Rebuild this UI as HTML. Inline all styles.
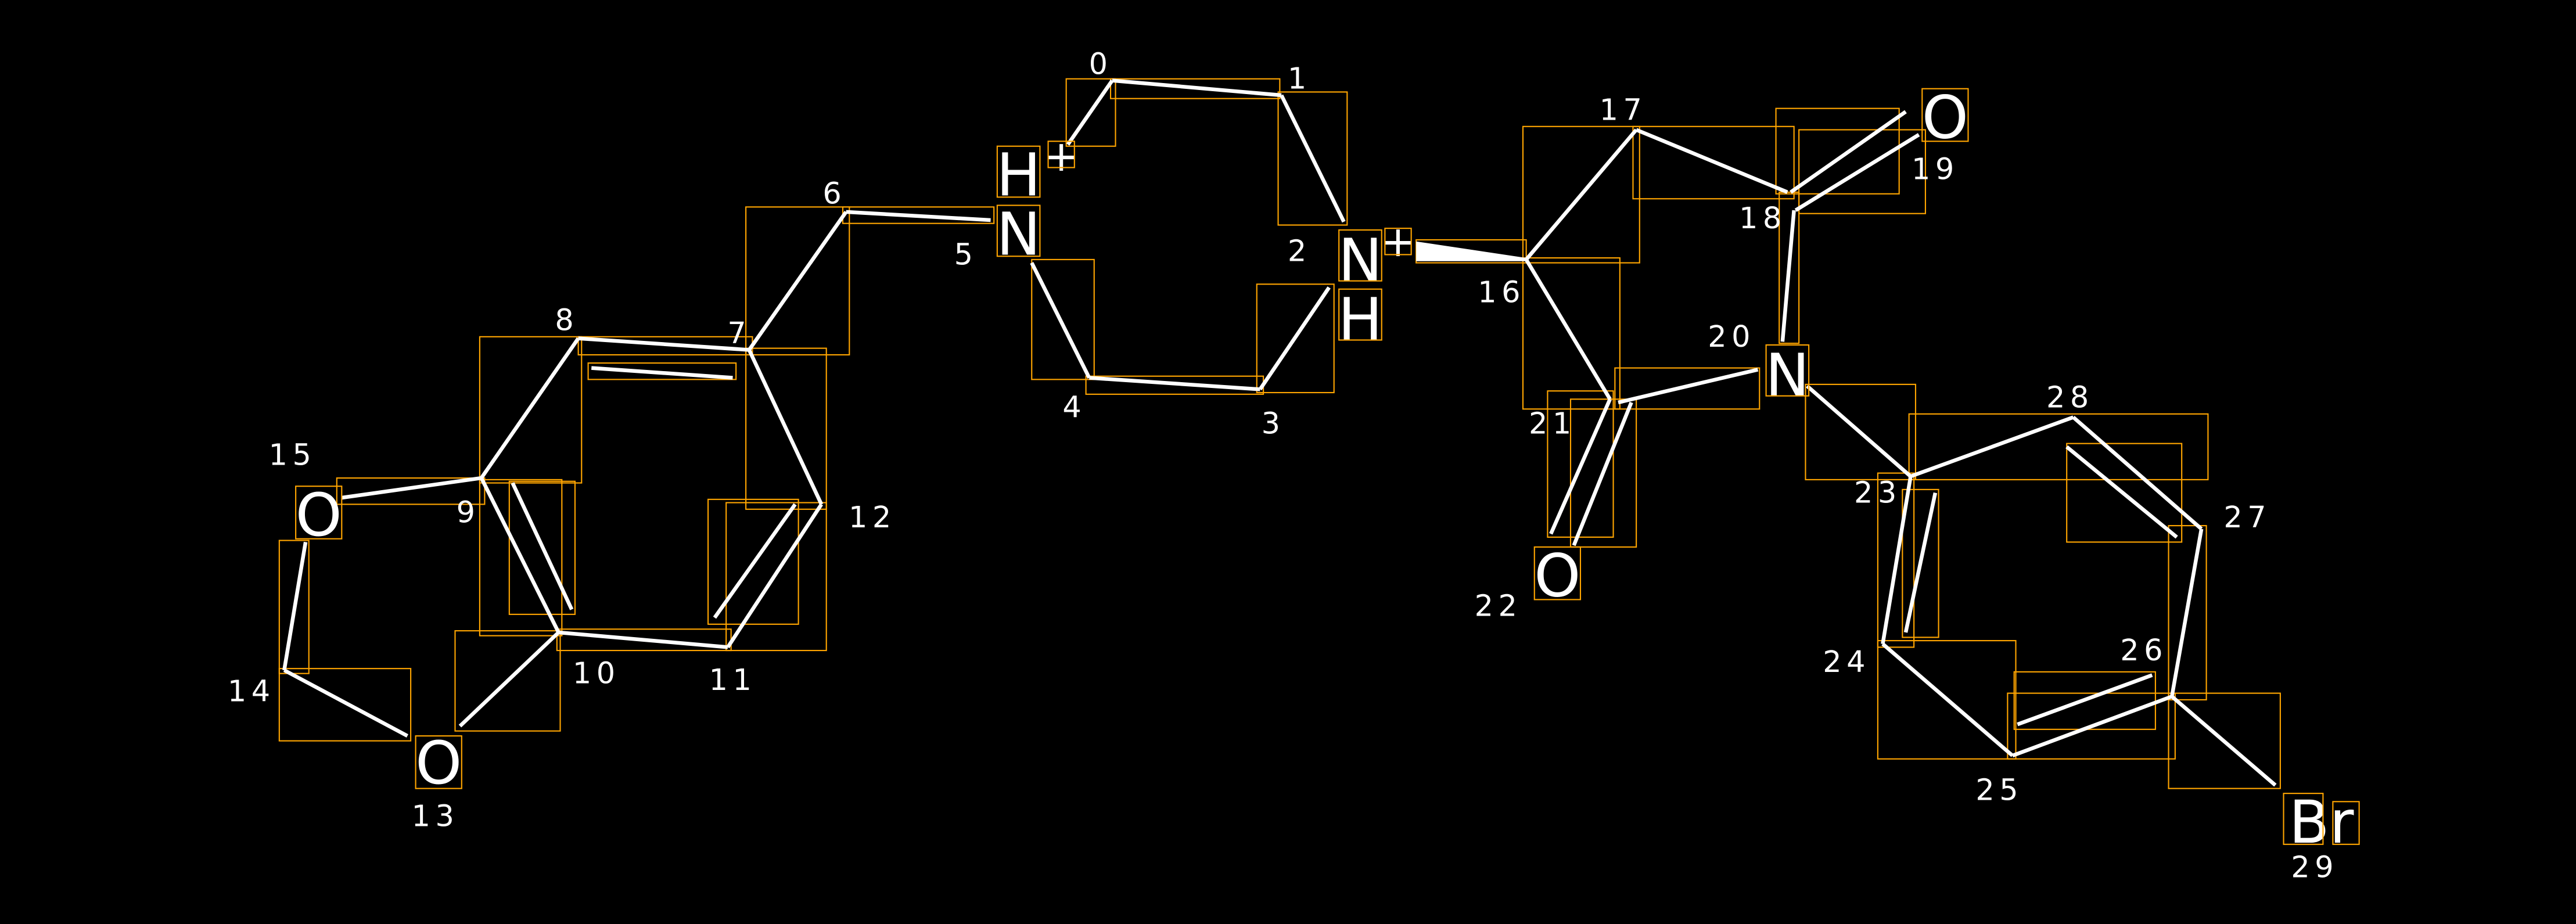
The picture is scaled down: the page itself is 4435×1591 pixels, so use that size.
<!DOCTYPE html>
<html><head><meta charset="utf-8"><style>
html,body{margin:0;padding:0;background:#000;}
svg{display:block;}
</style></head><body>
<svg width="4435" height="1591" viewBox="0 0 1568 562.5" xmlns="http://www.w3.org/2000/svg">
<rect x="0" y="0" width="1568" height="562.5" fill="#000"/>
<g stroke="#FFA500" stroke-width="0.75" fill="none">
<rect x="676" y="48" width="103" height="12"/>
<rect x="778" y="56" width="42" height="81"/>
<rect x="649" y="48" width="30" height="41"/>
<rect x="628" y="158" width="38" height="73"/>
<rect x="661" y="229" width="108" height="11"/>
<rect x="765" y="173" width="47" height="66"/>
<rect x="513" y="126" width="92" height="10"/>
<rect x="454" y="126" width="63" height="90"/>
<rect x="352" y="205" width="106" height="11"/>
<rect x="358" y="221" width="90" height="10"/>
<rect x="292" y="205" width="62" height="89"/>
<rect x="292" y="292" width="50" height="95"/>
<rect x="310" y="293" width="40" height="81"/>
<rect x="339" y="383" width="106" height="13"/>
<rect x="442" y="306" width="61" height="90"/>
<rect x="431" y="304" width="55" height="76"/>
<rect x="454" y="212" width="49" height="98"/>
<rect x="205" y="291" width="90" height="16"/>
<rect x="170" y="329" width="18" height="81"/>
<rect x="170" y="407" width="80" height="44"/>
<rect x="277" y="384" width="64" height="61"/>
<rect x="862" y="146" width="67" height="14"/>
<rect x="927" y="77" width="71" height="83"/>
<rect x="994" y="77" width="98" height="44"/>
<rect x="1081" y="66" width="75" height="52"/>
<rect x="1095" y="79" width="77" height="51"/>
<rect x="1083" y="117" width="12" height="92"/>
<rect x="927" y="157" width="59" height="92"/>
<rect x="983" y="224" width="88" height="25"/>
<rect x="942" y="238" width="40" height="89"/>
<rect x="956" y="243" width="40" height="90"/>
<rect x="1099" y="234" width="67" height="58"/>
<rect x="1162" y="252" width="182" height="40"/>
<rect x="1258" y="270" width="70" height="60"/>
<rect x="1320" y="320" width="23" height="106"/>
<rect x="1222" y="422" width="102" height="40"/>
<rect x="1226" y="409" width="86" height="35"/>
<rect x="1143" y="390" width="84" height="72"/>
<rect x="1143" y="288" width="22" height="106"/>
<rect x="1158" y="298" width="22" height="90"/>
<rect x="1320" y="422" width="68" height="58"/>
</g>
<g stroke="#fff" stroke-width="2.3" stroke-linecap="butt" fill="none">
<line x1="677" y1="49" x2="780" y2="58"/>
<line x1="780" y1="58" x2="818" y2="135"/>
<line x1="677" y1="49" x2="650" y2="88"/>
<line x1="628" y1="160" x2="663" y2="230"/>
<line x1="663" y1="230" x2="767" y2="237"/>
<line x1="767" y1="237" x2="809" y2="175"/>
<line x1="603" y1="134" x2="515" y2="129"/>
<line x1="515" y1="129" x2="456" y2="213"/>
<line x1="456" y1="213" x2="352" y2="206"/>
<line x1="360" y1="224" x2="446" y2="230"/>
<line x1="352" y1="206" x2="293" y2="291"/>
<line x1="293" y1="291" x2="340" y2="385"/>
<line x1="312" y1="294" x2="348" y2="371"/>
<line x1="340" y1="385" x2="443" y2="394"/>
<line x1="443" y1="394" x2="500" y2="307"/>
<line x1="435" y1="376" x2="484" y2="307"/>
<line x1="500" y1="307" x2="456" y2="213"/>
<line x1="293" y1="291" x2="208" y2="303"/>
<line x1="186" y1="330" x2="173" y2="408"/>
<line x1="173" y1="408" x2="248" y2="448"/>
<line x1="340" y1="385" x2="280" y2="442"/>
<line x1="929" y1="158" x2="996" y2="79"/>
<line x1="996" y1="79" x2="1088" y2="117"/>
<line x1="1090" y1="117" x2="1160" y2="68"/>
<line x1="1093" y1="128" x2="1168" y2="82"/>
<line x1="1092" y1="128" x2="1085" y2="208"/>
<line x1="929" y1="158" x2="980" y2="243"/>
<line x1="985" y1="245" x2="1070" y2="225"/>
<line x1="980" y1="243" x2="944" y2="325"/>
<line x1="993" y1="245" x2="958" y2="332"/>
<line x1="1100" y1="235" x2="1163" y2="290"/>
<line x1="1163" y1="290" x2="1262" y2="254"/>
<line x1="1262" y1="254" x2="1340" y2="322"/>
<line x1="1258" y1="272" x2="1325" y2="327"/>
<line x1="1340" y1="322" x2="1322" y2="424"/>
<line x1="1322" y1="424" x2="1225" y2="460"/>
<line x1="1228" y1="441" x2="1310" y2="411"/>
<line x1="1225" y1="460" x2="1146" y2="392"/>
<line x1="1146" y1="392" x2="1163" y2="290"/>
<line x1="1160" y1="385" x2="1178" y2="300"/>
<line x1="1322" y1="424" x2="1385" y2="478"/>
</g>
<polygon points="862,147 929,157 929,159 862,159" fill="#fff"/>
<g font-family="'DejaVu Sans','Liberation Sans',sans-serif" fill="#fff" text-anchor="middle" font-size="36">
<text x="620" y="119">H</text>
<text x="620" y="155">N</text>
<text x="828" y="171">N</text>
<text x="828" y="207">H</text>
<text x="194" y="326">O</text>
<text x="267" y="477">O</text>
<text x="1184" y="84">O</text>
<text x="1088" y="241">N</text>
<text x="948" y="363">O</text>
<text x="1413" y="513">Br</text>
</g>
<g font-family="'DejaVu Sans','Liberation Sans',sans-serif" fill="#fff" text-anchor="middle" font-size="26">
<text x="646" y="104">+</text>
<text x="851" y="156">+</text>
</g>
<g font-family="'DejaVu Sans','Liberation Sans',sans-serif" fill="#fff" text-anchor="middle" font-size="18" letter-spacing="3">
<text x="670" y="45">0</text>
<text x="791" y="54">1</text>
<text x="791" y="159">2</text>
<text x="775" y="264">3</text>
<text x="654" y="254">4</text>
<text x="588" y="161">5</text>
<text x="508" y="124">6</text>
<text x="450" y="209">7</text>
<text x="345" y="201">8</text>
<text x="285" y="318">9</text>
<text x="363" y="416">10</text>
<text x="446" y="420">11</text>
<text x="531" y="321">12</text>
<text x="265" y="503">13</text>
<text x="153" y="427">14</text>
<text x="178" y="283">15</text>
<text x="914" y="184">16</text>
<text x="988" y="73">17</text>
<text x="1073" y="139">18</text>
<text x="1178" y="109">19</text>
<text x="1054" y="211">20</text>
<text x="945" y="264">21</text>
<text x="912" y="375">22</text>
<text x="1143" y="306">23</text>
<text x="1124" y="409">24</text>
<text x="1217" y="487">25</text>
<text x="1305" y="402">26</text>
<text x="1368" y="321">27</text>
<text x="1260" y="248">28</text>
<text x="1409" y="534">29</text>
</g>
<g stroke="#FFA500" stroke-width="0.75" fill="none">
<rect x="607" y="89" width="26" height="31"/>
<rect x="607" y="125" width="26" height="31"/>
<rect x="815" y="140" width="26" height="31"/>
<rect x="815" y="176" width="26" height="31"/>
<rect x="180" y="296" width="28" height="32"/>
<rect x="253" y="448" width="28" height="32"/>
<rect x="1170" y="54" width="28" height="32"/>
<rect x="1075" y="210" width="26" height="31"/>
<rect x="934" y="333" width="28" height="32"/>
<rect x="1390" y="483" width="24" height="31"/>
<rect x="1420" y="488" width="16" height="26"/>
<rect x="638" y="86" width="16" height="16"/>
<rect x="843" y="139" width="16" height="16"/>
</g>
</svg>
</body></html>
